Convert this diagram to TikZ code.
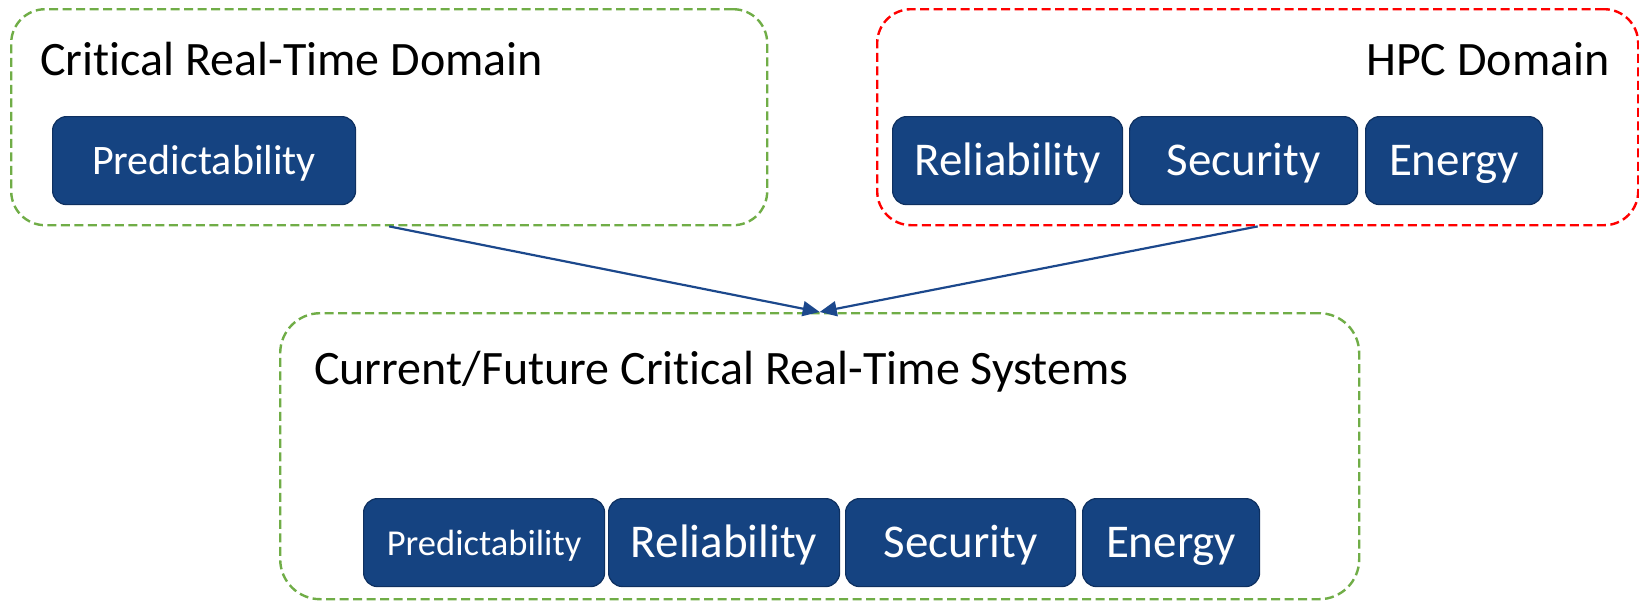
\documentclass[tikz,border=0pt]{standalone}
\usepackage{fontspec}
\setmainfont[Ligatures=NoCommon]{Carlito}
\usetikzlibrary{arrows.meta}
\definecolor{boxblue}{RGB}{21,67,129}
\definecolor{boxedge}{RGB}{14,48,96}
\definecolor{arrowblue}{RGB}{28,72,140}
\definecolor{domgreen}{RGB}{112,173,71}
\definecolor{domred}{RGB}{255,0,0}
\tikzset{
  domain/.style={draw=#1, line width=2.4pt, dash pattern=on 9pt off 4.5pt,
    rounded corners=34pt, rectangle, anchor=north west, inner sep=0pt},
  prop/.style={draw=boxedge, fill=boxblue, line width=1.2pt, rounded corners=14pt,
    rectangle, anchor=north west, inner sep=0pt, minimum height=88pt,
    text=white, text height=30pt, text depth=0pt,
    font=\fontsize{47}{56}\selectfont},
  title/.style={inner sep=0pt, text=black, font=\fontsize{48}{57}\selectfont},
  link/.style={draw=arrowblue, line width=2.2pt, -{Triangle[length=17pt,width=15pt]}}
}
\begin{document}
\begin{tikzpicture}[x=1pt,y=-1pt]
\useasboundingbox (0,0) rectangle (1639,600);

% domain frames
\node[domain=domgreen, minimum width=756pt, minimum height=216pt] (rt) at (10,8) {};
\node[domain=domred, minimum width=761pt, minimum height=216pt] (hpc) at (876,8) {};
\node[domain=domgreen, minimum width=1079pt, minimum height=286pt, rounded corners=40pt] (sys) at (279,312) {};

% frame titles
\node[title, anchor=base west] (rtT) at (40,75) {Critical Real-Time Domain};
\node[title, anchor=base east] (hpcT) at (1610,75) {HPC Domain};
\node[title, anchor=base west] (sysT) at (314,384) {Current/Future Critical Real-Time Systems};

% properties of each domain
\node[prop, minimum width=303pt, text height=27pt, font=\fontsize{42}{50}\selectfont] (p1) at (52,116) {Predictability};
\node[prop, minimum width=230pt] (r1) at (892,116) {Reliability};
\node[prop, minimum width=228pt] (s1) at (1129,116) {Security};
\node[prop, minimum width=177pt] (e1) at (1365,116) {Energy};

\node[prop, minimum width=241pt, text height=25pt, font=\fontsize{36.5}{44}\selectfont] (p2) at (363,498) {Predictability};
\node[prop, minimum width=231pt] (r2) at (608,498) {Reliability};
\node[prop, minimum width=230pt] (s2) at (845,498) {Security};
\node[prop, minimum width=177pt] (e2) at (1082,498) {Energy};

% both domains feed the combined systems
\draw[link] (rt.south) -- (sys.north);
\draw[link] (hpc.south) -- (sys.north);
\end{tikzpicture}
\end{document}
